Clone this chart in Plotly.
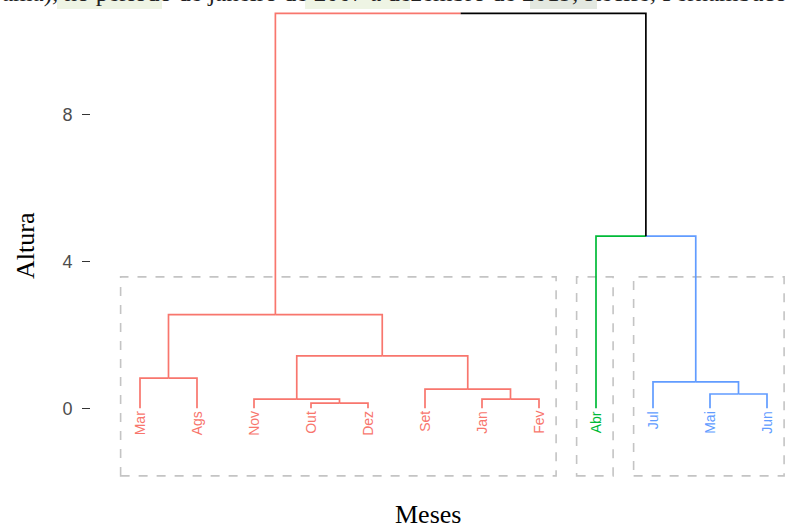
import plotly.graph_objects as go

# ---------------- data ----------------
leaves = ["Mar", "Ags", "Nov", "Out", "Dez", "Set", "Jan", "Fev", "Abr", "Jul", "Mai", "Jun"]
leaf_cluster = [1, 1, 1, 1, 1, 1, 1, 1, 2, 3, 3, 3]
# hclust-style merges: negative = leaf (1-based), positive = earlier merge (1-based)
merge_a = [-4, -7, -3, -11, -6, -10, -1, 3, 7, -9, 9]
merge_b = [-5, -8, 1, -12, 2, 4, -2, 5, 8, 6, 10]
merge_h = [0.14, 0.25, 0.25, 0.39, 0.52, 0.72, 0.82, 1.43, 2.55, 4.69, 10.76]
cluster_colors = {1: "#F8766D", 2: "#00BA38", 3: "#619CFF"}
y_ticks = [0, 4, 8]
caption = "ama), no período de janeiro de 2007 a dezembro de 2019, Recife, Pernambuco"

# ---------------- layout constants ----------------
W, H = 786, 530
ML, MR, MT, MB = 91, 0, 0, 45
PW, PH = W - ML - MR, H - MT - MB
x_range = [1 - (140 - ML) / 57.0, 1 - (140 - ML) / 57.0 + PW / 57.0]
y_range = [-(485 - 408.3) / 36.7, 408.3 / 36.7]


def px2paper(px, py):
    return (px - ML) / PW, (H - MB - py) / PH


# ---------------- dendrogram geometry ----------------
node_x, node_h, node_leaves = {}, {}, {}
for i in range(len(leaves)):
    node_x[-(i + 1)] = i + 1
    node_h[-(i + 1)] = 0.0
    node_leaves[-(i + 1)] = [i]
for k in range(len(merge_h)):
    a, b = merge_a[k], merge_b[k]
    node_x[k + 1] = (node_x[a] + node_x[b]) / 2
    node_h[k + 1] = merge_h[k]
    node_leaves[k + 1] = node_leaves[a] + node_leaves[b]


def node_color(n):
    cl = {leaf_cluster[i] for i in node_leaves[n]}
    return cluster_colors[cl.pop()] if len(cl) == 1 else "black"


fig = go.Figure()

# dashed cluster rectangles
for c in sorted(cluster_colors):
    idx = [i + 1 for i, cc in enumerate(leaf_cluster) if cc == c]
    x0, x1 = min(idx) - 0.34, max(idx) + 0.30
    fig.add_shape(type="rect", xref="x", yref="y", x0=x0, x1=x1, y0=-1.84, y1=3.58,
                  line=dict(color="#C4C4C4", width=1.6, dash="dash"), layer="below")

for k in range(len(merge_h)):
    p = k + 1
    for ch in (merge_a[k], merge_b[k]):
        fig.add_trace(go.Scatter(
            x=[node_x[p], node_x[ch], node_x[ch]],
            y=[node_h[p], node_h[p], node_h[ch]],
            mode="lines", line=dict(color=node_color(ch), width=1.7),
            hoverinfo="skip", showlegend=False))

annotations = []
for i, lab in enumerate(leaves):
    annotations.append(dict(
        x=i + 1, y=0, xref="x", yref="y", text=lab, showarrow=False,
        textangle=-90, xanchor="center", yanchor="top", yshift=-1,
        font=dict(family="Liberation Sans, Arial", size=14,
                  color=cluster_colors[leaf_cluster[i]])))

ax, ay = px2paper(25, 246)
annotations.append(dict(x=ax, y=ay, xref="paper", yref="paper", text="Altura",
                        showarrow=False, textangle=-90, xanchor="center", yanchor="middle",
                        font=dict(family="Liberation Serif, Times New Roman", size=26, color="black")))
mx, my = px2paper(428, 514)
annotations.append(dict(x=mx, y=my, xref="paper", yref="paper", text="Meses",
                        showarrow=False, xanchor="center", yanchor="middle",
                        font=dict(family="Liberation Serif, Times New Roman", size=26, color="black")))

# cropped caption text at the very top
cx, cy = px2paper(0, 9)
annotations.append(dict(x=cx, y=cy, xref="paper", yref="paper", text=caption,
                        showarrow=False, xanchor="left", yanchor="bottom",
                        font=dict(family="Liberation Serif, Times New Roman", size=25, color="#222222")))

# highlights behind caption
shapes_hl = [(57, 162, "#EEF4E4"), (305, 410, "#EEF4E4"), (530, 597, "#E3E8E0")]
for x0p, x1p, col in shapes_hl:
    px0, py0 = px2paper(x0p, 9)
    px1, py1 = px2paper(x1p, 0)
    fig.add_shape(type="rect", xref="paper", yref="paper", x0=px0, x1=px1, y0=py0, y1=py1 + 0.05,
                  line=dict(width=0), fillcolor=col, layer="below")

fig.update_layout(
    width=W, height=H,
    margin=dict(l=ML, r=MR, t=MT, b=MB),
    plot_bgcolor="white", paper_bgcolor="white",
    xaxis=dict(range=x_range, visible=False),
    yaxis=dict(range=y_range, tickvals=y_ticks, ticks="outside", ticklen=8,
               tickcolor="#333333", tickwidth=1.3, showgrid=False, zeroline=False,
               showline=False, ticklabelstandoff=6,
               tickfont=dict(family="Liberation Sans, Arial", size=18, color="#4D4D4D")),
    annotations=annotations,
    showlegend=False,
)

fig.write_html("out.html", config={"displayModeBar": False},
               post_script="document.body.style.margin='0';document.body.style.overflow='hidden';")
